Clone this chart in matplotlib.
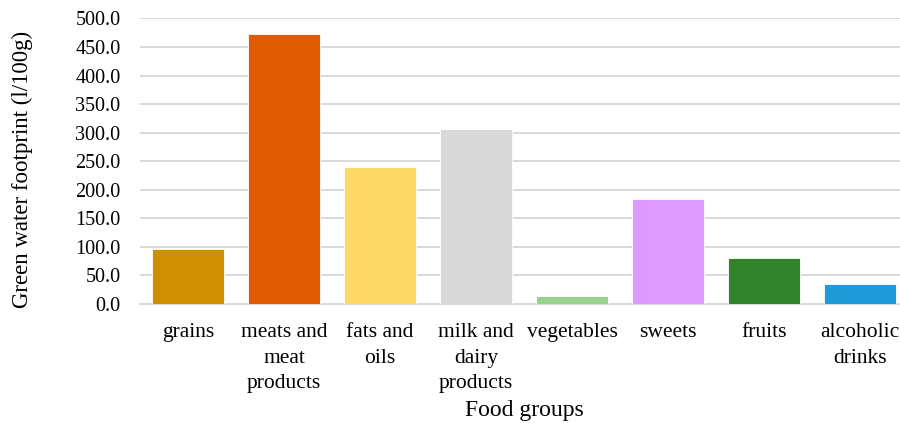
import numpy as np
import matplotlib
matplotlib.use("Agg")
import matplotlib.pyplot as plt

categories = ["grains", "meats and\nmeat\nproducts", "fats and\noils", "milk and\ndairy\nproducts",
              "vegetables", "sweets", "fruits", "alcoholic\ndrinks"]
values = [96.8, 473.5, 239.2, 307.3, 13.2, 184.3, 79.8, 34.8]
colors = ["#CF9000", "#E05A00", "#FFD966", "#D9D9D9", "#98D28C", "#DD9BFF", "#31822A", "#1E9CD7"]
yticks = np.arange(0, 501, 50)

plt.rcParams["font.family"] = ["Liberation Serif", "DejaVu Serif"]

fig = plt.figure(figsize=(9, 4.23), dpi=100)
ax = fig.add_axes([140 / 900, (423 - 304) / 423, 768 / 900, 285.5 / 423])

x = np.arange(len(categories))
ax.bar(x, values, width=0.74, color=colors, edgecolor="white", linewidth=0.6, zorder=3)

ax.set_xlim(-0.5, len(categories) - 0.5)
ax.set_ylim(0, 500)
ax.set_yticks(yticks)
ax.set_yticklabels([f"{v:.1f}" for v in yticks], fontsize=14.5)
ax.set_xticks(x)
ax.set_xticklabels(categories, fontsize=15.5, linespacing=1.46, va="top")
ax.tick_params(axis="both", length=0)
ax.tick_params(axis="y", pad=14)
ax.tick_params(axis="x", pad=14)

ax.grid(axis="y", color="#D9D9D9", linewidth=1.4, zorder=0)
for s in ["top", "right", "left"]:
    ax.spines[s].set_visible(False)
ax.spines["bottom"].set_color("#D9D9D9")
ax.spines["bottom"].set_linewidth(1.4)

fig.text(22 / 900, (423 - 169) / 423, "Green water footprint (l/100g)", rotation=90,
         ha="center", va="center", fontsize=16.5)
fig.text(524 / 900, (423 - 410) / 423, "Food groups", ha="center", va="center", fontsize=17)

fig.savefig("out.png", dpi=100)
